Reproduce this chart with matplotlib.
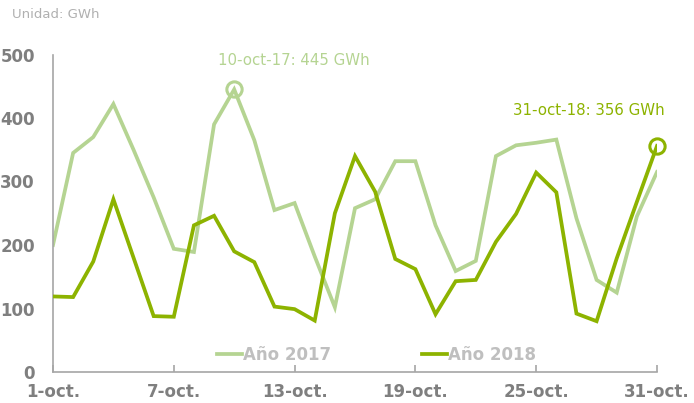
import matplotlib
matplotlib.use("Agg")
import matplotlib.pyplot as plt

plt.rcParams['font.family'] = ['DejaVu Sans']

days = list(range(1, 32))
y2017 = [200, 345, 370, 422, 350, 275, 194, 189, 390, 445, 365, 255, 266, 182, 102,
         258, 272, 332, 332, 231, 159, 175, 340, 357, 361, 366, 242, 145, 125, 245, 315]
y2018 = [119, 118, 174, 272, 180, 88, 87, 231, 246, 190, 173, 103, 99, 81, 250,
         340, 284, 178, 162, 91, 143, 145, 205, 249, 314, 283, 92, 80, 179, 268, 356]
xticks = [1, 7, 13, 19, 25, 31]
xticklabels = ["1-oct.", "7-oct.", "13-oct.", "19-oct.", "25-oct.", "31-oct."]
yticks = [0, 100, 200, 300, 400, 500]
labels = ["Año 2017", "Año 2018"]
ann_text = ["10-oct-17: 445 GWh", "31-oct-18: 356 GWh"]
ann_day = [10, 31]

c17 = "#b5d492"
c18 = "#8db300"

fig = plt.figure(figsize=(6.94, 4.03), dpi=100)
ax = fig.add_axes([53/694, 31/403, 604/694, 317.5/403])

ax.plot(days, y2017, color=c17, lw=2.7, label=labels[0], solid_joinstyle='miter', zorder=2)
ax.plot(days, y2018, color=c18, lw=2.7, label=labels[1], solid_joinstyle='miter', zorder=3)

# highlighted points
ax.plot([ann_day[0]], [y2017[ann_day[0]-1]], 'o', ms=11, mfc='none', mec=c17, mew=2.2, zorder=4, clip_on=False)
ax.plot([ann_day[1]], [y2018[ann_day[1]-1]], 'o', ms=11, mfc='none', mec=c18, mew=2.2, zorder=4, clip_on=False)
ax.annotate(ann_text[0], xy=(ann_day[0], y2017[ann_day[0]-1]), xytext=(-16, 29),
            textcoords='offset pixels', color=c17, fontsize=10.8, ha='left', va='center')
ax.annotate(ann_text[1], xy=(ann_day[1], y2018[ann_day[1]-1]), xytext=(-144, 35),
            textcoords='offset pixels', color=c18, fontsize=10.8, ha='left', va='center')

ax.set_xlim(1, 31)
ax.set_ylim(0, 500)
ax.set_xticks(xticks)
ax.set_xticklabels(xticklabels)
ax.set_yticks(yticks)

for s in ['top', 'right']:
    ax.spines[s].set_visible(False)
for s in ['left', 'bottom']:
    ax.spines[s].set_color('#a6a6a6')
    ax.spines[s].set_linewidth(1.2)

ax.tick_params(axis='x', direction='in', length=5, width=1.2, color='#a6a6a6',
               pad=8, labelsize=12, labelcolor='#7f7f7f')
ax.tick_params(axis='y', length=0, pad=13, labelsize=12, labelcolor='#7f7f7f')
for lab in ax.get_xticklabels() + ax.get_yticklabels():
    lab.set_fontweight('bold')

leg = ax.legend(loc='center', bbox_to_anchor=(0.5356, 0.0535), ncol=2, frameon=False,
                handlelength=1.5, handletextpad=0.1, columnspacing=5.4,
                prop={'weight': 'bold', 'size': 12})
for t in leg.get_texts():
    t.set_color('#bfbfbf')

fig.text(12/694, 1 - 15/403, "Unidad: GWh", color='#b0b0b0', fontsize=9.5, ha='left', va='center')

fig.savefig("out.png", dpi=100)
